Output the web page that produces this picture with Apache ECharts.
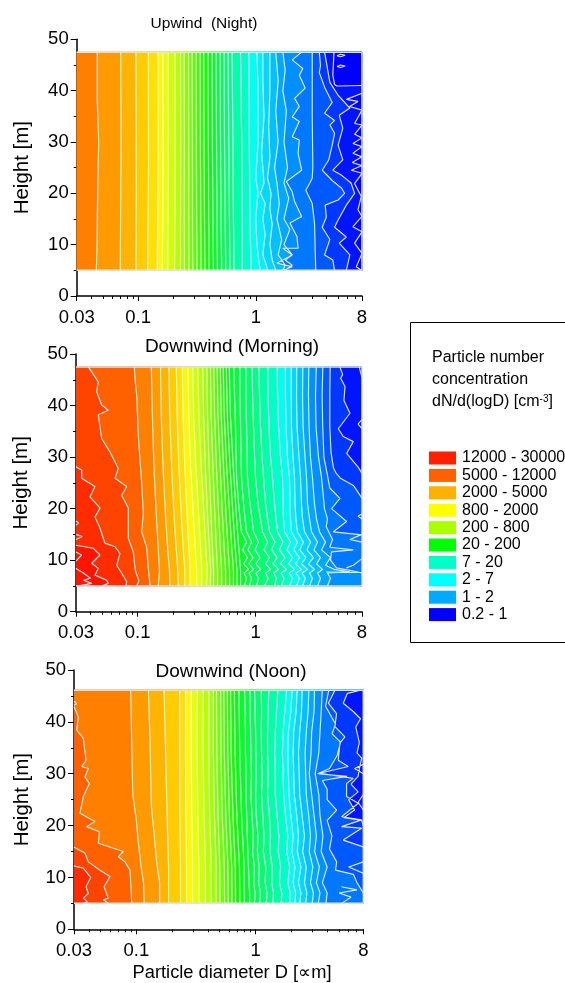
<!DOCTYPE html>
<html><head><meta charset="utf-8">
<style>html,body{margin:0;padding:0;background:#fff}#c{width:565px;height:983px}</style>
<script src="https://cdn.jsdelivr.net/npm/echarts@6/dist/echarts.min.js"></script>
</head><body><div id="c"></div>
<script>
// Contour lines are lists of [height m, log10(D um)].
const majorD=[0.03,0.1,1,8];
const minorD=[0.04,0.05,0.06,0.07,0.08,0.09,0.2,0.3,0.4,0.5,0.6,0.7,0.8,0.9,2,3,4,5,6,7];
const legendLabels=['12000 - 30000','5000 - 12000','2000 - 5000','800 - 2000','200 - 800','20 - 200','7 - 20','2 - 7','1 - 2','0.2 - 1'];
const legendColors=['#ff2000','#ff6000','#ffb000','#ffff00','#aaff00','#00ff00','#00ffc8','#00ffff','#00aaff','#0000ff'];
const bandColors=['#ff1400','#ff2c00','#ff4400','#ff6000','#ff8000','#ff9a00','#ffb400','#ffcc00','#ffe000','#fff800',
'#e8ff00','#d0ff00','#b8ff00','#a0ff00','#88ff00','#70ff00','#58ff00','#40ff00','#28ff00','#10ff00',
'#00ff10','#00ff28','#00ff40','#00ff58','#00ff70','#00ff88','#00ffa8','#00ffc8','#00fff0','#00f0ff',
'#00d8ff','#00c0ff','#00a8ff','#0090ff','#0078ff','#0058ff','#0038ff','#0014ff','#0000ff'];

// Upwind (Night)
const upMidHeights=[47.5,30,15,5];
const upMid=[
[-.832,-.83,-.834,-.838],[-.79,-.788,-.79,-.796],[-.745,-.743,-.745,-.748],[-.688,-.686,-.688,-.69],
[-.64,-.638,-.64,-.64],[-.609,-.607,-.608,-.606],[-.572,-.57,-.57,-.568],[-.541,-.539,-.538,-.535],
[-.507,-.505,-.503,-.5],[-.473,-.471,-.468,-.466],[-.442,-.44,-.436,-.432],[-.405,-.403,-.4,-.396],
[-.371,-.369,-.365,-.36],[-.337,-.334,-.33,-.326],[-.303,-.3,-.296,-.29],[-.269,-.266,-.26,-.256],
[-.235,-.23,-.224,-.22],[-.201,-.195,-.19,-.185],[-.13,-.12,-.115,-.115],[-.06,-.055,-.05,-.04]];
const upContours=[
[[47.5,-1.348],[38,-1.348],[30,-1.336],[20,-1.345],[10,-1.35],[5,-1.356]],
[[47.5,-1.149],[30,-1.146],[15,-1.15],[5,-1.152]],
[[47.5,-1.019],[20,-1.016],[5,-1.019]],
[[47.5,-.914],[25,-.912],[5,-.92]],
...upMid.map(v=>v.map((d,i)=>[upMidHeights[i],d])),
[[47.5,.01],[40,.02],[30,.02],[23,0],[20,.02],[18,.01],[15,0],[10,.01],[6,.03],[5,.04]],
[[47.5,.06],[42,.06],[35,.07],[28,.05],[22,.07],[20,.04],[18,.08],[15,.06],[12,.08],[8,.06],[6,.09],[5,.1]],
[[47.5,.12],[40,.12],[33,.11],[27,.12],[23,.1],[20,.13],[17,.12],[14,.14],[10,.12],[7,.14],[5,.17]],
[[47.5,.17],[42,.19],[36,.17],[30,.19],[25,.16],[22,.18],[18,.2],[15,.18],[11,.22],[8,.19],[6,.25],[5,.23]],
[[47.5,.23],[44,.25],[40,.23],[36,.26],[30,.24],[25,.27],[22,.24],[19,.28],[15,.24],[13,.29],[10,.24],[8,.31],[7,.25],[6,.31],[5,.25]],
[[47.5,.39],[46,.31],[44.3,.4],[43,.37],[40.5,.42],[38.5,.33],[36.9,.37],[34.9,.31],[34,.37],[31,.31],[30.4,.37],[27.8,.36],[24.5,.39],[22.3,.26],[20.3,.31],[18.4,.33],[15.5,.39],[14.2,.29],[11.6,.35],[9.3,.36],[9.3,.23],[8,.31],[6.4,.18],[5.7,.31],[5,.23]],
[[47.5,.48],[35,.48],[25,.485],[23,.48],[22,.46],[20.6,.425],[19,.46],[18,.48],[14,.5],[9,.505],[5,.51]],
[[47.5,.54],[44.9,.55],[43.5,.54],[40.4,.59],[37.7,.65],[35.6,.585],[34.2,.67],[33.3,.63],[31.7,.67],[29.4,.65],[26.5,.62],[24.5,.565],[22.5,.65],[21,.73],[20,.755],[18.7,.7],[17.7,.59],[15.4,.6],[13.4,.565],[11,.63],[8,.585],[7,.655],[5,.67]],
[[47.5,.585],[41.6,.63],[39.1,.7],[36.6,.8],[35.2,.71],[32.7,.74],[29.4,.7],[26.5,.74],[24.5,.655],[23.5,.73],[22,.81],[20,.84],[17.7,.77],[14.8,.7],[13.4,.67],[11.5,.77],[10.3,.71],[8,.8],[5,.77]],
[[47.5,.665],[43,.655],[41.2,.67],[40.9,.69],[41,.903],[39.5,.903],[38.3,.77],[37.9,.869],[36.9,.798],[36.2,.903],[33.6,.84],[33.3,.903],[31.5,.84],[30.8,.903],[29.7,.826],[29.1,.903],[27.8,.826],[27.1,.903],[26,.82],[25.4,.903],[24.5,.812],[23.9,.903],[21.9,.84],[19.4,.897],[16.8,.869],[15.5,.903],[13.5,.826],[12.5,.903],[10.3,.84],[8.3,.903],[5.7,.855],[5,.897]]
];
const upExtras=[
[[46.8,.69],[47.1,.72],[46.9,.76],[46.6,.72],[46.8,.69]],
[[44.7,.69],[45,.72],[44.8,.76],[44.5,.72],[44.7,.69]]];

// Downwind (Morning)
const mornMidHeights=[47.5,38,28,18,12,8,5];
const mornMid=[
[-.884,-.875,-.862,-.84,-.825,-.815,-.825],[-.806,-.8,-.785,-.762,-.745,-.73,-.726],
[-.735,-.728,-.712,-.69,-.672,-.66,-.655],[-.672,-.665,-.65,-.628,-.612,-.6,-.6],
[-.622,-.615,-.6,-.58,-.565,-.555,-.556],[-.574,-.566,-.55,-.525,-.51,-.5,-.5],
[-.532,-.524,-.505,-.48,-.465,-.455,-.457],[-.489,-.48,-.46,-.435,-.42,-.41,-.415],
[-.447,-.44,-.425,-.405,-.39,-.38,-.385],[-.413,-.407,-.393,-.376,-.365,-.356,-.356],
[-.382,-.376,-.361,-.343,-.331,-.322,-.322],[-.354,-.347,-.331,-.311,-.298,-.288,-.288],
[-.325,-.318,-.3,-.279,-.265,-.254,-.254],[-.299,-.291,-.271,-.248,-.232,-.22,-.22],
[-.274,-.265,-.244,-.217,-.2,-.187,-.187],[-.248,-.239,-.216,-.189,-.171,-.157,-.157],
[-.223,-.213,-.189,-.161,-.141,-.127,-.127]];
const mornRightHeights=[47.5,42,36,30,26,21,18,15.5,13.5,12,10.5,9.3,8.2,7.5,6.5,5];
const mornRight=[
[-.184,-.178,-.17,-.165,-.161,-.144,-.131,-.119,-.076,-.11,-.068,-.102,-.059,-.098,-.076,-.093],
[-.133,-.131,-.127,-.123,-.119,-.102,-.089,-.076,-.034,-.064,-.021,-.055,-.017,-.055,-.034,-.051],
[-.082,-.081,-.076,-.072,-.068,-.047,-.03,-.017,.025,-.004,.038,.004,.042,.004,.025,.008],
[-.028,-.025,-.017,-.008,0,.021,.042,.059,.102,.072,.119,.085,.127,.085,.106,.076],
[.028,.034,.042,.055,.068,.085,.102,.119,.165,.136,.182,.148,.195,.153,.178,.161],
[.104,.106,.114,.127,.144,.161,.174,.187,.233,.203,.25,.212,.263,.216,.242,.22],
[.184,.187,.195,.212,.229,.233,.237,.246,.297,.267,.314,.28,.331,.284,.314,.288],
[.254,.254,.259,.271,.288,.293,.297,.305,.356,.326,.373,.339,.39,.343,.373,.348],
[.303,.303,.305,.318,.331,.335,.343,.356,.407,.377,.428,.39,.441,.394,.424,.399],
[.35,.348,.352,.369,.382,.39,.399,.416,.467,.437,.492,.449,.5,.458,.483,.458],
[.401,.399,.403,.42,.433,.441,.458,.475,.526,.496,.551,.517,.568,.526,.551,.526]];
const mornContours=[
[[47.5,-1.523],[12.9,-1.523],[12.3,-1.376],[11,-1.319],[9.4,-1.39],[8.4,-1.334],[7.1,-1.362],[6.1,-1.263],[5.5,-1.249],[5,-1.305]],
[[47.5,-1.523],[28.1,-1.523],[27.5,-1.475],[25.9,-1.475],[24.3,-1.362],[22.3,-1.404],[20.1,-1.319],[18.4,-1.362],[16.2,-1.319],[14.2,-1.291],[13.3,-1.277],[12.6,-1.192],[11.3,-1.15],[9,-1.178],[7.5,-1.136],[5.8,-1.093],[5,-1.1]],
[[47.5,-1.418],[44.6,-1.334],[42.7,-1.348],[40.1,-1.305],[39.1,-1.249],[38.2,-1.334],[33.6,-1.305],[31,-1.235],[27.8,-1.164],[25.9,-1.192],[24.3,-1.093],[22.6,-1.136],[20.1,-1.079],[14.2,-1.079],[11.6,-1.037],[8,-1.02],[6,-.99],[5,-1.008]],
[[47.5,-1.028],[45.3,-1.023],[42,-1.008],[34,-.994],[25,-.966],[19,-.952],[15.5,-.966],[12.5,-.924],[8.5,-.91],[5,-.895]],
...mornMid.map(v=>v.map((d,i)=>[mornMidHeights[i],d])),
...mornRight.map(v=>v.map((d,i)=>[mornRightHeights[i],d])),
[[47.5,.452],[42,.449],[36,.454],[30,.466],[26,.483],[21,.5],[18,.517],[15.5,.543],[13.5,.594],[12,.56],[10.5,.636],[9,.594],[8.2,.67],[7.7,.8],[7.5,.61],[6.5,.636],[5,.61]],
[[47.5,.515],[42,.509],[36,.513],[30,.534],[26,.56],[22,.577],[20,.585],[18,.61],[16.5,.6],[14,.653],[12.5,.63],[12,.829],[11.6,.645],[10,.636],[8.5,.687],[7.8,.85],[7.5,.903],[5,.903]],
[[47.5,.571],[42,.565],[36,.57],[30,.58],[26.5,.61],[24,.63],[22,.716],[20,.645],[17.5,.773],[15.5,.66],[14.9,.903],[5,.903]],
[[47.5,.633],[42,.63],[36,.63],[31,.64],[28,.66],[27,.68],[25.9,.72],[24.5,.83],[22.8,.88],[22,.903],[5,.903]],
[[47.5,.716],[46,.739],[45.3,.722],[43.7,.759],[41,.75],[38.5,.801],[35.5,.702],[34,.744],[33,.829],[30.7,.773],[28,.872],[26.8,.903],[5,.903]]
];
const mornExtras=[
[[17.6,-1.523],[17.2,-1.5],[16.8,-1.523]],[[15,-1.523],[14.6,-1.47],[14,-1.523]],
[[11.6,-1.523],[11,-1.475],[9.8,-1.523]],[[8.4,-1.523],[7.5,-1.46],[6.5,-1.4],[6.1,-1.46],[5.5,-1.39],[5,-1.5]],
[[10.3,.903],[9,.83],[8.5,.77]],[[37.3,.903],[36.4,.87],[35.5,.903]],[[47.5,.88],[46.5,.89],[45.5,.903]],
[[19,.903],[18.5,.87],[18,.903]],[[15,.903],[14,.8],[13.5,.903]],[[7.7,.6],[7.6,.903]]];

// Downwind (Noon)
const noonMidHeights=[46.1,34,22,12,5];
const noonMid=[
[-.637,-.637,-.635,-.63,-.63],[-.587,-.588,-.585,-.58,-.58],[-.539,-.54,-.535,-.528,-.528],
[-.489,-.49,-.484,-.475,-.475],[-.438,-.44,-.432,-.42,-.42],[-.391,-.392,-.385,-.372,-.372],
[-.354,-.354,-.345,-.33,-.33],[-.327,-.325,-.315,-.3,-.298],[-.293,-.29,-.28,-.262,-.26],
[-.266,-.262,-.25,-.232,-.23],[-.237,-.233,-.22,-.2,-.198],[-.21,-.205,-.19,-.17,-.168],
[-.178,-.172,-.157,-.135,-.132],[-.14,-.133,-.118,-.096,-.094]];
const noonRightHeights=[46.1,42,38,34,30,26,22,18,15,12,9,7,5];
const noonRight=[
[-.092,-.09,-.085,-.085,-.08,-.08,-.075,-.07,-.065,-.06,-.055,-.05,-.05],
[-.048,-.045,-.042,-.04,-.035,-.04,-.03,-.02,-.025,-.01,-.015,-.005,-.01],
[-.008,-.005,0,.002,.005,0,.005,.02,.015,.03,.025,.04,.035],
[.048,.05,.048,.05,.055,.05,.06,.07,.065,.085,.08,.095,.09],
[.111,.105,.1,.1,.105,.1,.115,.125,.12,.14,.135,.15,.145],
[.187,.175,.165,.16,.165,.165,.18,.195,.19,.21,.2,.22,.215],
[.26,.245,.23,.225,.23,.235,.25,.27,.26,.285,.27,.29,.285],
[.307,.295,.275,.27,.275,.28,.295,.315,.305,.33,.315,.335,.33],
[.349,.34,.32,.315,.32,.325,.345,.36,.35,.38,.36,.38,.37],
[.391,.385,.37,.36,.365,.37,.39,.41,.395,.425,.41,.43,.42],
[.447,.44,.425,.415,.42,.425,.445,.46,.45,.48,.46,.485,.475],
[.494,.49,.47,.465,.45,.47,.49,.51,.495,.535,.51,.54,.525],
[.559,.55,.54,.53,.5,.53,.54,.565,.55,.6,.56,.6,.59]];
const noonContours=[
[[46.1,-1.523],[12.2,-1.523],[11.8,-1.445],[10,-1.383],[8.2,-1.422],[6.9,-1.403],[6,-1.445],[5.3,-1.411],[5,-1.445]],
[[46.1,-1.523],[15.8,-1.523],[14.7,-1.431],[13,-1.403],[11.4,-1.305],[10.2,-1.221],[8.2,-1.271],[6,-1.235],[5.7,-1.277],[5,-1.235]],
[[46.1,-1.523],[42.9,-1.523],[41,-1.487],[38.4,-1.5],[36.8,-1.445],[32.6,-1.422],[31.4,-1.459],[31,-1.403],[29.4,-1.431],[28.1,-1.394],[25.6,-1.445],[22.4,-1.473],[20.8,-1.347],[19.8,-1.417],[18.8,-1.31],[16.6,-1.319],[15,-1.109],[14,-1.151],[13,-1.095],[11.4,-1.053],[5,-1.039]],
[[46.1,-1.048],[37,-1.04],[26,-1.03],[21,-1],[17,-.985],[12,-.96],[9,-.94],[5,-.935]],
[[46.1,-.899],[36,-.885],[24,-.875],[18,-.85],[13,-.83],[9,-.805],[5,-.805]],
[[46.1,-.768],[34,-.755],[20,-.74],[12,-.73],[5,-.73]],
...noonMid.map(v=>v.map((d,i)=>[noonMidHeights[i],d])),
...noonRight.map(v=>v.map((d,i)=>[noonRightHeights[i],d])),
[[46.1,.614],[43,.587],[39.6,.67],[37.7,.642],[36.1,.712],[33.5,.684],[31,.62],[30,.52],[29.5,.768],[28.7,.56],[27,.6],[25,.6],[23,.68],[21,.6],[18,.64],[15.5,.62],[13,.68],[11.4,.67],[10.6,.82],[9,.85],[7,.903],[5,.903]],
[[46.1,.665],[43.6,.61],[41.6,.679],[39.1,.665],[37.1,.749],[35.9,.707],[32.6,.693],[31.4,.777],[30.1,.54],[29.1,.819],[28.1,.763],[25.6,.763],[24.3,.861],[21.7,.721],[21.1,.889],[19.8,.721],[19.5,.889],[17.2,.735],[15.9,.903],[5,.903]],
[[46.1,.88],[45.5,.77],[43.6,.735],[41.9,.824],[40.6,.88],[39,.84],[37,.86],[36,.87],[34,.85],[33,.89],[31,.87],[29.5,.86],[28,.8],[26.5,.86],[25,.78],[23,.83],[21.5,.74],[21,.89],[20,.903],[5,.903]]
];
const noonExtras=[[[31.8,.903],[31,.83],[30,.903]],[[26,.903],[24.5,.86],[23,.903]],[[13,.903],[12,.78],[10.8,.903]],[[8.2,.72],[7.6,.85],[7,.7],[6.2,.8],[5,.72]],[[44,-1.523],[43.5,-1.5],[43.2,-1.523]]];

const panels=[
{title:'Upwind  (Night)',titleX:204,titleY:16,titleSize:15.5,contours:upContours,extras:upExtras,start:4,top:47.5,grid:{left:76.7,right:203,top:39.3,bottom:687},nameGap:44},
{title:'Downwind (Morning)',titleX:232,titleY:337,titleSize:19,contours:mornContours,extras:mornExtras,start:0,top:47.5,grid:{left:76,right:203,top:354,bottom:371.3},nameGap:44},
{title:'Downwind (Noon)',titleX:231,titleY:662,titleSize:19,contours:noonContours,extras:noonExtras,start:1,top:46.1,grid:{left:74,right:201.7,top:670,bottom:53.7},nameGap:41}
];
const bottomHeight=5, logDMin=Math.log10(0.03), logDMax=Math.log10(8);
const font='"Liberation Sans",Arial,sans-serif', ink='#000';
const toD=v=>Math.pow(10,v);
const onEdge=d=>d<=-1.52||d>=.9;

function contourLine(list){
  const out=[];
  list.forEach(c=>{
    c.forEach((p,i)=>{
      if(i>0&&onEdge(p[1])&&onEdge(c[i-1][1])&&p[1]*c[i-1][1]>0) out.push(['-','-']);
      out.push([toD(p[1]),p[0]]);
    });
    out.push(['-','-']);
  });
  return out;
}

const grid=[],xAxis=[],yAxis=[],series=[],title=[];
panels.forEach((pn,k)=>{
  grid.push(Object.assign({containLabel:false},pn.grid));
  title.push({text:pn.title,left:pn.titleX,top:pn.titleY,padding:0,textAlign:'center',textStyle:{fontFamily:font,fontWeight:'normal',fontSize:pn.titleSize,color:ink}});
  xAxis.push({type:'log',logBase:10,gridIndex:k,position:'bottom',min:0.03,max:8,splitLine:{show:false},
    axisLine:{lineStyle:{color:ink,width:1.5}},
    axisTick:{show:true,length:5,customValues:majorD,lineStyle:{color:ink,width:1}},
    axisLabel:{customValues:majorD,margin:12,fontFamily:font,fontSize:18.5,color:ink,formatter:v=>String(+(+v).toPrecision(2)),showMinLabel:true,showMaxLabel:true,hideOverlap:false},
    minorTick:{show:false}});
  xAxis.push({type:'log',logBase:10,gridIndex:k,position:'bottom',min:0.03,max:8,splitLine:{show:false},
    axisLine:{show:false},axisLabel:{show:false},
    axisTick:{show:true,length:3,customValues:minorD,lineStyle:{color:ink,width:1}}});
  yAxis.push({type:'value',gridIndex:k,min:0,max:50,interval:10,splitLine:{show:false},
    name:'Height [m]',nameLocation:'middle',nameGap:pn.nameGap,nameTextStyle:{fontFamily:font,fontSize:20.5,color:ink},
    axisLine:{lineStyle:{color:ink,width:1.5}},axisTick:{length:6,lineStyle:{color:ink,width:1}},
    minorTick:{show:true,splitNumber:2,length:3,lineStyle:{color:ink,width:1}},
    axisLabel:{margin:8,fontFamily:font,fontSize:18.5,color:ink}});
  const xi=k*2;
  const left=[[pn.top,logDMin],[bottomHeight,logDMin]];
  const bands=[left,...pn.contours];
  series.push({type:'custom',name:'bands'+k,xAxisIndex:xi,yAxisIndex:k,clip:true,silent:true,animation:false,
    data:bands.map((_,i)=>[0.03,pn.top]),
    renderItem:(params,api)=>{
      const i=params.dataIndex,c=bands[i];
      const pts=c.map(p=>api.coord([toD(p[1]),p[0]]));
      pts.push(api.coord([8,bottomHeight]),api.coord([8,pn.top]));
      const col=bandColors[pn.start+i];
      return {type:'polygon',shape:{points:pts},style:{fill:col,stroke:col,lineWidth:.5}};
    }});
  series.push({type:'line',name:'contours'+k,xAxisIndex:xi,yAxisIndex:k,showSymbol:false,silent:true,animation:false,connectNulls:false,
    data:contourLine(pn.contours.concat(pn.extras)),lineStyle:{color:'rgba(245,245,245,.92)',width:1.15}});
  series.push({type:'line',name:'frame'+k,xAxisIndex:xi,yAxisIndex:k,showSymbol:false,silent:true,animation:false,clip:false,
    data:[[0.03,pn.top],[8,pn.top],[8,bottomHeight],[0.03,bottomHeight]],lineStyle:{color:'#e2e2e2',width:1.5}});
});
legendLabels.forEach((n,i)=>series.push({type:'scatter',name:n,xAxisIndex:0,yAxisIndex:0,data:[],itemStyle:{color:legendColors[i],opacity:1}}));

const chart=echarts.init(document.getElementById('c'),null,{renderer:'canvas'});
chart.setOption({animation:false,backgroundColor:'#fff',title:title.concat([{text:'Particle diameter D [∝m]',left:232,top:964,padding:0,textAlign:'center',textStyle:{fontFamily:font,fontWeight:'normal',fontSize:18.3,color:ink}}]),
  grid,xAxis,yAxis,series,
  legend:{orient:'vertical',left:429,top:450,padding:0,itemWidth:27,itemHeight:13,itemGap:1.4,selectedMode:false,icon:'rect',
    data:legendLabels,textStyle:{fontFamily:font,fontSize:16,color:ink,padding:[0,0,0,1]}},
  graphic:[
   {type:'rect',shape:{x:410.5,y:322.5,width:156,height:320},style:{fill:'none',stroke:'#000',lineWidth:1},z:10},
   {type:'text',x:432,y:358,style:{text:'Particle number',font:'16px '+font,fill:ink,verticalAlign:'middle'},z:10},
   {type:'text',x:432,y:380,style:{text:'concentration',font:'16px '+font,fill:ink,verticalAlign:'middle'},z:10},
   {type:'text',x:432,y:402,style:{text:'{a|dN/d(logD) [cm}{b|-3}{a|]}',verticalAlign:'middle',rich:{a:{fontFamily:font,fontSize:16,fill:ink,color:ink},b:{fontFamily:font,fontSize:10,verticalAlign:'top',color:ink,fill:ink,padding:[0,0,6,0]}}},z:10}
  ]});
</script></body></html>
